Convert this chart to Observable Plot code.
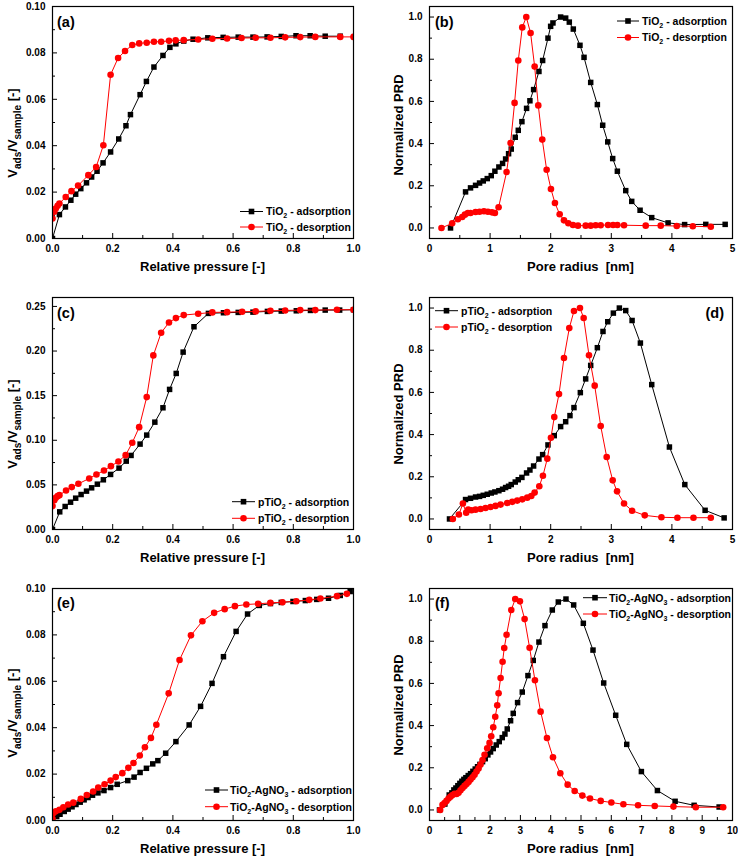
<!DOCTYPE html>
<html><head><meta charset="utf-8">
<script src="https://cdn.jsdelivr.net/npm/d3@7"></script>
<script src="https://cdn.jsdelivr.net/npm/@observablehq/plot@0.6"></script>
<style>
body{margin:0;background:#fff;}
#root{position:relative;width:738px;height:857px;overflow:hidden;background:#fff;}
#root svg{position:absolute;}
</style></head><body><div id="root"></div>
<script>
// ---------- Panel (a): TiO2 isotherm ----------
const aAdsX = [0,0.023,0.043,0.061,0.077,0.094,0.113,0.130,0.148,0.168,0.193,0.220,0.244,0.259,0.291,0.312,0.337,0.367,0.390,0.410,0.436,0.467,0.516,0.567,0.617,0.666,0.713,0.760,0.809,0.856,0.906,0.956];
const aAdsY = [0,0.0103,0.0136,0.0165,0.0191,0.0215,0.0240,0.0265,0.0290,0.0326,0.0373,0.0429,0.0486,0.0534,0.0620,0.0677,0.0739,0.0789,0.0824,0.0839,0.0851,0.0859,0.0865,0.0867,0.0868,0.0868,0.0869,0.0871,0.0874,0.0874,0.0872,0.0872];
const aDesX = [0,0.006,0.011,0.017,0.023,0.044,0.063,0.085,0.119,0.145,0.169,0.193,0.218,0.241,0.265,0.288,0.313,0.337,0.361,0.387,0.409,0.436,0.484,0.531,0.580,0.628,0.675,0.724,0.773,0.823,0.873,0.956,1.0];
const aDesY = [0.0086,0.0115,0.0129,0.0141,0.0151,0.0179,0.0204,0.0228,0.0273,0.0308,0.0402,0.0706,0.0778,0.0808,0.0834,0.0841,0.0844,0.0848,0.0848,0.0852,0.0854,0.0855,0.0858,0.0861,0.0862,0.0864,0.0865,0.0865,0.0867,0.0868,0.0869,0.0869,0.0869];

// ---------- Panel (b): TiO2 PRD ----------
const bAdsX = [0.347,0.595,0.677,0.760,0.826,0.887,0.953,1.019,1.079,1.145,1.206,1.256,1.305,1.349,1.415,1.465,1.525,1.602,1.657,1.718,1.806,1.867,1.955,1.999,2.037,2.164,2.247,2.307,2.373,2.483,2.550,2.660,2.770,2.858,2.941,3.023,3.100,3.238,3.337,3.475,3.667,3.937,4.210,4.559,4.879];
const bAdsY = [0,0.171,0.190,0.202,0.213,0.223,0.234,0.248,0.269,0.289,0.306,0.327,0.352,0.374,0.430,0.463,0.504,0.567,0.603,0.656,0.742,0.794,0.900,0.956,0.972,1.0,0.995,0.976,0.943,0.866,0.809,0.690,0.585,0.487,0.408,0.329,0.269,0.177,0.126,0.084,0.049,0.024,0.016,0.017,0.017];
const bDesX = [0.198,0.374,0.468,0.540,0.584,0.633,0.677,0.760,0.826,0.898,0.964,1.030,1.079,1.140,1.272,1.338,1.404,1.465,1.531,1.597,1.668,1.735,1.795,1.861,1.933,2.004,2.070,2.148,2.219,2.291,2.368,2.450,2.577,2.660,2.742,2.825,2.946,3.029,3.100,3.210,3.568,3.816,4.080,4.345,4.642];
const bDesY = [0,0.022,0.041,0.052,0.063,0.071,0.071,0.076,0.077,0.079,0.077,0.074,0.071,0.098,0.265,0.403,0.593,0.794,0.951,1.0,0.924,0.765,0.581,0.419,0.276,0.185,0.118,0.065,0.036,0.022,0.014,0.011,0.011,0.011,0.013,0.013,0.014,0.014,0.014,0.013,0.011,0.011,0.009,0.008,0.006];

// ---------- Panel (c): pTiO2 isotherm ----------
const cAdsX = [0,0.024,0.042,0.060,0.077,0.095,0.113,0.130,0.149,0.169,0.193,0.221,0.245,0.261,0.291,0.313,0.340,0.367,0.389,0.411,0.434,0.470,0.518,0.568,0.617,0.666,0.714,0.760,0.810,0.857,0.906,0.954,1.0];
const cAdsY = [0,0.0198,0.0258,0.0306,0.0351,0.0392,0.0430,0.0467,0.0508,0.0557,0.0617,0.0688,0.0766,0.0830,0.0957,0.1058,0.1203,0.1364,0.1570,0.1749,0.1988,0.2272,0.2422,0.2429,0.2433,0.2436,0.2444,0.2448,0.2451,0.2455,0.2459,0.2459,0.2463];
const cDesX = [0,0.006,0.011,0.017,0.023,0.045,0.064,0.086,0.122,0.146,0.171,0.194,0.219,0.243,0.265,0.288,0.313,0.335,0.361,0.387,0.410,0.436,0.484,0.531,0.580,0.630,0.675,0.724,0.773,0.823,0.873,0.945,1.0];
const cDesY = [0.0262,0.0329,0.0355,0.0374,0.0385,0.0437,0.0475,0.0512,0.0572,0.0617,0.0661,0.0710,0.0762,0.0833,0.0972,0.1147,0.1484,0.1951,0.2205,0.2320,0.2369,0.2403,0.2418,0.2433,0.2436,0.2440,0.2444,0.2451,0.2455,0.2459,0.2459,0.2463,0.2463];

// ---------- Panel (d): pTiO2 PRD ----------
const dAdsX = [0.330,0.595,0.677,0.760,0.826,0.887,0.953,1.019,1.079,1.145,1.206,1.256,1.305,1.349,1.415,1.465,1.525,1.602,1.657,1.718,1.806,1.867,1.955,2.059,2.164,2.247,2.318,2.384,2.489,2.577,2.660,2.770,2.863,2.941,3.034,3.133,3.238,3.343,3.480,3.667,3.959,4.213,4.548,4.862];
const dAdsY = [0,0.092,0.098,0.104,0.107,0.112,0.117,0.123,0.128,0.134,0.141,0.149,0.155,0.163,0.175,0.186,0.197,0.218,0.232,0.251,0.284,0.305,0.351,0.395,0.438,0.461,0.490,0.528,0.599,0.664,0.728,0.812,0.889,0.935,0.976,1.0,0.988,0.941,0.834,0.637,0.341,0.163,0.041,0.005];
const dDesX = [0.385,0.485,0.551,0.606,0.639,0.694,0.760,0.843,0.925,1.008,1.090,1.173,1.283,1.366,1.448,1.531,1.613,1.680,1.735,1.812,1.872,1.944,2.004,2.059,2.137,2.219,2.307,2.384,2.483,2.544,2.632,2.726,2.825,2.924,3.023,3.095,3.210,3.343,3.552,3.827,4.091,4.356,4.642];
const dDesY = [0,0.021,0.073,0.030,0.044,0.041,0.044,0.047,0.052,0.057,0.062,0.068,0.076,0.081,0.087,0.093,0.101,0.109,0.125,0.155,0.205,0.286,0.385,0.483,0.592,0.763,0.905,0.986,1.0,0.953,0.776,0.632,0.441,0.294,0.183,0.131,0.073,0.039,0.017,0.008,0.006,0.006,0.006];

// ---------- Panel (e): TiO2-AgNO3 isotherm ----------
const eAdsX = [0,0.014,0.025,0.039,0.052,0.065,0.078,0.092,0.105,0.118,0.133,0.151,0.171,0.193,0.215,0.250,0.271,0.291,0.312,0.333,0.350,0.376,0.410,0.454,0.492,0.530,0.568,0.610,0.648,0.687,0.724,0.760,0.799,0.840,0.878,0.917,0.956,0.989];
const eAdsY = [0,0.0017,0.0027,0.0039,0.0049,0.0059,0.0069,0.0079,0.0089,0.0099,0.0109,0.0119,0.0129,0.0142,0.0156,0.0172,0.0187,0.0207,0.0225,0.0244,0.0258,0.0290,0.0340,0.0412,0.0492,0.0591,0.0706,0.0815,0.0890,0.0927,0.0935,0.0940,0.0944,0.0948,0.0953,0.0958,0.0970,0.0987];
const eDesX = [0,0.003,0.011,0.023,0.036,0.052,0.069,0.094,0.114,0.135,0.152,0.173,0.193,0.210,0.232,0.252,0.269,0.290,0.307,0.327,0.345,0.386,0.422,0.460,0.498,0.537,0.572,0.606,0.644,0.683,0.724,0.764,0.810,0.853,0.890,0.945,0.978];
const eDesY = [0.0007,0.0032,0.0040,0.0046,0.0057,0.0069,0.0077,0.0093,0.0110,0.0125,0.0142,0.0156,0.0172,0.0187,0.0204,0.0227,0.0248,0.0280,0.0316,0.0356,0.0413,0.0548,0.0692,0.0798,0.0859,0.0895,0.0911,0.0924,0.0931,0.0934,0.0938,0.0941,0.0945,0.0951,0.0957,0.0967,0.0977];

// ---------- Panel (f): TiO2-AgNO3 PRD ----------
const fAdsX = [0.330,0.507,0.650,0.738,0.804,0.870,0.936,1.002,1.068,1.134,1.200,1.278,1.355,1.432,1.509,1.586,1.663,1.751,1.839,1.927,2.015,2.104,2.203,2.302,2.401,2.489,2.566,2.676,2.764,2.907,3.062,3.249,3.425,3.612,3.811,4.053,4.251,4.504,4.758,5.077,5.396,5.749,6.145,6.509,6.993,7.522,8.106,8.733,9.559];
const fAdsY = [0,0.028,0.071,0.081,0.095,0.104,0.115,0.126,0.136,0.145,0.153,0.163,0.172,0.183,0.194,0.205,0.216,0.229,0.243,0.261,0.275,0.291,0.308,0.324,0.343,0.360,0.384,0.423,0.458,0.509,0.559,0.637,0.709,0.796,0.874,0.948,0.986,1.0,0.972,0.885,0.758,0.602,0.449,0.311,0.182,0.092,0.041,0.022,0.014];
const fDesX = [0.352,0.430,0.496,0.562,0.628,0.694,0.760,0.826,0.892,0.958,1.024,1.090,1.156,1.222,1.289,1.355,1.421,1.487,1.553,1.619,1.685,1.751,1.817,1.905,1.982,2.037,2.104,2.170,2.236,2.280,2.346,2.412,2.467,2.544,2.698,2.830,2.985,3.139,3.304,3.480,3.667,3.877,4.075,4.317,4.559,4.791,5.044,5.297,5.650,6.002,6.399,6.883,7.434,8.051,8.789,9.692];
const fDesY = [0,0.024,0.033,0.043,0.054,0.063,0.071,0.077,0.076,0.081,0.093,0.104,0.114,0.123,0.133,0.144,0.155,0.167,0.182,0.197,0.215,0.237,0.262,0.292,0.318,0.349,0.392,0.442,0.496,0.553,0.626,0.703,0.768,0.831,0.948,1.0,0.989,0.905,0.769,0.615,0.466,0.341,0.250,0.174,0.120,0.090,0.068,0.054,0.043,0.035,0.027,0.022,0.019,0.016,0.013,0.013];

// ---------- Ticks & labels ----------
const pTicksMajor = [0,0.2,0.4,0.6,0.8,1.0];
const pTicksMinor = [0.1,0.3,0.5,0.7,0.9];
const v10Major = [0,0.02,0.04,0.06,0.08,0.10];
const v10Minor = [0.01,0.03,0.05,0.07,0.09];
const v25Major = [0,0.05,0.10,0.15,0.20,0.25];
const v25Minor = [0.025,0.075,0.125,0.175,0.225];
const prdMajor = [0,0.2,0.4,0.6,0.8,1.0];
const prdMinor = [0.1,0.3,0.5,0.7,0.9];
const r5Major = [0,1,2,3,4,5];
const r5Minor = [0.5,1.5,2.5,3.5,4.5];
const r10Major = [0,1,2,3,4,5,6,7,8,9,10];
const r10Minor = [0.5,1.5,2.5,3.5,4.5,5.5,6.5,7.5,8.5,9.5];
const xLabelP = "Relative pressure [-]";
const xLabelR = "Pore radius  [nm]";
const yLabelV = "V_{ads}/V_{sample} [-]";
const yLabelN = "Normalized PRD";

const FONT = "'Liberation Sans', Arial, Helvetica, sans-serif";
const RED = "#ff0000";

function rich(sel, str, size, subSize, subShift) {
  const re = /_\{([^}]*)\}|_(\w)/g;
  const parts = [];
  let last = 0, m;
  while ((m = re.exec(str))) {
    if (m.index > last) parts.push({t: str.slice(last, m.index), sub: false});
    parts.push({t: m[1] ?? m[2], sub: true});
    last = re.lastIndex;
  }
  if (last < str.length) parts.push({t: str.slice(last), sub: false});
  let cur = 0;
  for (const p of parts) {
    const target = p.sub ? subShift : 0;
    sel.append("tspan").attr("dy", target - cur).attr("font-size", p.sub ? subSize : size).text(p.t);
    cur = target;
  }
}

function panel(p) {
  const [x0, x1] = p.xDomain, [y0, y1] = p.yDomain;
  const pw = p.width - p.mL - p.mR, ph = p.height - p.mT - p.mB;
  const tyMaj = 5 / ph * (y1 - y0), tyMin = 3 / ph * (y1 - y0);
  const txMaj = 5 / pw * (x1 - x0), txMin = 3 / pw * (x1 - x0);
  const ads = p.adsX.map((x, i) => ({x, y: p.adsY[i]}));
  const des = p.desX.map((x, i) => ({x, y: p.desY[i]}));
  const svg = Plot.plot({
    width: p.width, height: p.height,
    marginLeft: p.mL, marginRight: p.mR, marginTop: p.mT, marginBottom: p.mB,
    style: {fontFamily: FONT, fontSize: "10px", fontWeight: "bold", background: "transparent", overflow: "visible", color: "black"},
    x: {domain: p.xDomain, label: null},
    y: {domain: p.yDomain, label: null},
    marks: [
      Plot.axisX({ticks: p.xMajor, tickSize: 0, tickPadding: 6, tickFormat: p.xFmt, label: null, fill: "black"}),
      Plot.axisY({ticks: p.yMajor, tickSize: 0, tickPadding: 7, tickFormat: p.yFmt, label: null, fill: "black"}),
      Plot.ruleX(p.xMajor, {x: d => d, y1: y0, y2: y0 + tyMaj, stroke: "black"}),
      Plot.ruleX(p.xMinor, {x: d => d, y1: y0, y2: y0 + tyMin, stroke: "black"}),
      Plot.ruleY(p.yMajor, {y: d => d, x1: x0, x2: x0 + txMaj, stroke: "black"}),
      Plot.ruleY(p.yMinor, {y: d => d, x1: x0, x2: x0 + txMin, stroke: "black"}),
      Plot.line(ads, {x: "x", y: "y", stroke: "black", strokeWidth: 1, clip: true}),
      Plot.dot(ads, {x: "x", y: "y", symbol: "square", r: 3.1, fill: "black", clip: true}),
      Plot.line(des, {x: "x", y: "y", stroke: RED, strokeWidth: 1, clip: true}),
      Plot.dot(des, {x: "x", y: "y", symbol: "circle", r: 3.3, fill: RED, clip: true}),
      Plot.frame({stroke: "black", strokeWidth: 1.2})
    ]
  });
  svg.style.left = p.left + "px";
  svg.style.top = p.top + "px";
  const s = d3.select(svg);
  const fx0 = p.mL, fx1 = p.width - p.mR, fy0 = p.mT, fy1 = p.height - p.mB;
  // x label
  s.append("text").attr("x", (fx0 + fx1) / 2).attr("y", fy1 + 33)
    .attr("text-anchor", "middle").attr("font-size", 13).attr("font-weight", "bold")
    .attr("fill", "black").style("white-space", "pre").text(p.xLabel);
  // y label
  const yl = s.append("text")
    .attr("transform", `translate(${p.yLabX - p.left},${p.yLabY - p.top}) rotate(-90)`)
    .attr("text-anchor", "middle").attr("font-size", 13).attr("font-weight", "bold")
    .attr("fill", "black").style("white-space", "pre");
  rich(yl, p.yLabel, 13, 10, 4);
  // tag
  s.append("text").attr("x", p.tagX - p.left).attr("y", p.tagY - p.top)
    .attr("text-anchor", p.tagAnchor || "start").attr("font-size", 14.5).attr("font-weight", "bold")
    .attr("fill", "black").text(p.tag);
  // legend
  const L = p.legend;
  [[L.labels[0], "black", "square"], [L.labels[1], RED, "circle"]].forEach(([lab, col, sym], i) => {
    const cy = L.rows[i] - p.top;
    const lx0 = L.x0 - p.left, lx1 = L.x1 - p.left;
    s.append("line").attr("x1", lx0).attr("x2", lx1).attr("y1", cy).attr("y2", cy)
      .attr("stroke", col).attr("stroke-width", 1);
    const mx = (lx0 + lx1) / 2;
    if (sym === "square") s.append("rect").attr("x", mx - 2.8).attr("y", cy - 2.8).attr("width", 5.6).attr("height", 5.6).attr("fill", col);
    else s.append("circle").attr("cx", mx).attr("cy", cy).attr("r", 3.3).attr("fill", col);
    const t = s.append("text").attr("x", L.tx - p.left).attr("y", cy + 3.8)
      .attr("text-anchor", "start")
      .attr("font-size", 10.5).attr("font-weight", "bold").attr("fill", "black").style("white-space", "pre");
    rich(t, lab, 10.5, 7, 3);
  });
  document.getElementById("root").appendChild(svg);
}

const f2 = d3.format(".2f"), f1 = d3.format(".1f"), f0 = d3.format("d");

panel({left: 0, top: 0, width: 369, height: 285, mL: 52, mR: 16, mT: 6, mB: 47,
  xDomain: [0, 1], yDomain: [0, 0.1], xMajor: pTicksMajor, xMinor: pTicksMinor, yMajor: v10Major, yMinor: v10Minor,
  xFmt: f1, yFmt: f2, adsX: aAdsX, adsY: aAdsY, desX: aDesX, desY: aDesY,
  xLabel: xLabelP, yLabel: yLabelV, yLabX: 17, yLabY: 133, tag: "(a)", tagX: 57, tagY: 27,
  legend: {x0: 240, x1: 263, tx: 266, rows: [211.5, 227], labels: ["TiO_2 - adsorption", "TiO_2 - desorption"]}});

panel({left: 369, top: 0, width: 369, height: 285, mL: 60, mR: 6, mT: 6, mB: 47,
  xDomain: [0, 5], yDomain: [-0.05, 1.05], xMajor: r5Major, xMinor: r5Minor, yMajor: prdMajor, yMinor: prdMinor,
  xFmt: f0, yFmt: f1, adsX: bAdsX, adsY: bAdsY, desX: bDesX, desY: bDesY,
  xLabel: xLabelR, yLabel: yLabelN, yLabX: 403, yLabY: 125, tag: "(b)", tagX: 435, tagY: 27,
  legend: {x0: 617, x1: 639, tx: 642, rows: [21, 37.5], labels: ["TiO_2 - adsorption", "TiO_2 - desorption"]}});

panel({left: 0, top: 285, width: 369, height: 285, mL: 52, mR: 16, mT: 12, mB: 41,
  xDomain: [0, 1], yDomain: [0, 0.26], xMajor: pTicksMajor, xMinor: pTicksMinor, yMajor: v25Major, yMinor: v25Minor,
  xFmt: f1, yFmt: f2, adsX: cAdsX, adsY: cAdsY, desX: cDesX, desY: cDesY,
  xLabel: xLabelP, yLabel: yLabelV, yLabX: 17, yLabY: 424, tag: "(c)", tagX: 57, tagY: 318,
  legend: {x0: 232, x1: 255, tx: 258, rows: [501.7, 518.3], labels: ["pTiO_2 - adsorption", "pTiO_2 - desorption"]}});

panel({left: 369, top: 285, width: 369, height: 285, mL: 60, mR: 6, mT: 12, mB: 41,
  xDomain: [0, 5], yDomain: [-0.05, 1.05], xMajor: r5Major, xMinor: r5Minor, yMajor: prdMajor, yMinor: prdMinor,
  xFmt: f0, yFmt: f1, adsX: dAdsX, adsY: dAdsY, desX: dDesX, desY: dDesY,
  xLabel: xLabelR, yLabel: yLabelN, yLabX: 403, yLabY: 414, tag: "(d)", tagX: 724, tagY: 318, tagAnchor: "end",
  legend: {x0: 435, x1: 458, tx: 461, rows: [310.7, 327], labels: ["pTiO_2 - adsorption", "pTiO_2 - desorption"]}});

panel({left: 0, top: 570, width: 369, height: 287, mL: 52, mR: 16, mT: 18, mB: 37,
  xDomain: [0, 1], yDomain: [0, 0.1], xMajor: pTicksMajor, xMinor: pTicksMinor, yMajor: v10Major, yMinor: v10Minor,
  xFmt: f1, yFmt: f2, adsX: eAdsX, adsY: eAdsY, desX: eDesX, desY: eDesY,
  xLabel: xLabelP, yLabel: yLabelV, yLabX: 17, yLabY: 713, tag: "(e)", tagX: 57, tagY: 608,
  legend: {x0: 205, x1: 228, tx: 230, rows: [790, 806.7], labels: ["TiO_2-AgNO_3 - adsorption", "TiO_2-AgNO_3 - desorption"]}});

panel({left: 369, top: 570, width: 369, height: 287, mL: 60, mR: 6, mT: 18, mB: 37,
  xDomain: [0, 10], yDomain: [-0.05, 1.05], xMajor: r10Major, xMinor: r10Minor, yMajor: prdMajor, yMinor: prdMinor,
  xFmt: f0, yFmt: f1, adsX: fAdsX, adsY: fAdsY, desX: fDesX, desY: fDesY,
  xLabel: xLabelR, yLabel: yLabelN, yLabX: 403, yLabY: 705, tag: "(f)", tagX: 435, tagY: 608,
  legend: {x0: 583, x1: 607, tx: 609, rows: [597.7, 614], labels: ["TiO_2-AgNO_3 - adsorption", "TiO_2-AgNO_3 - desorption"]}});
</script>
</body></html>
